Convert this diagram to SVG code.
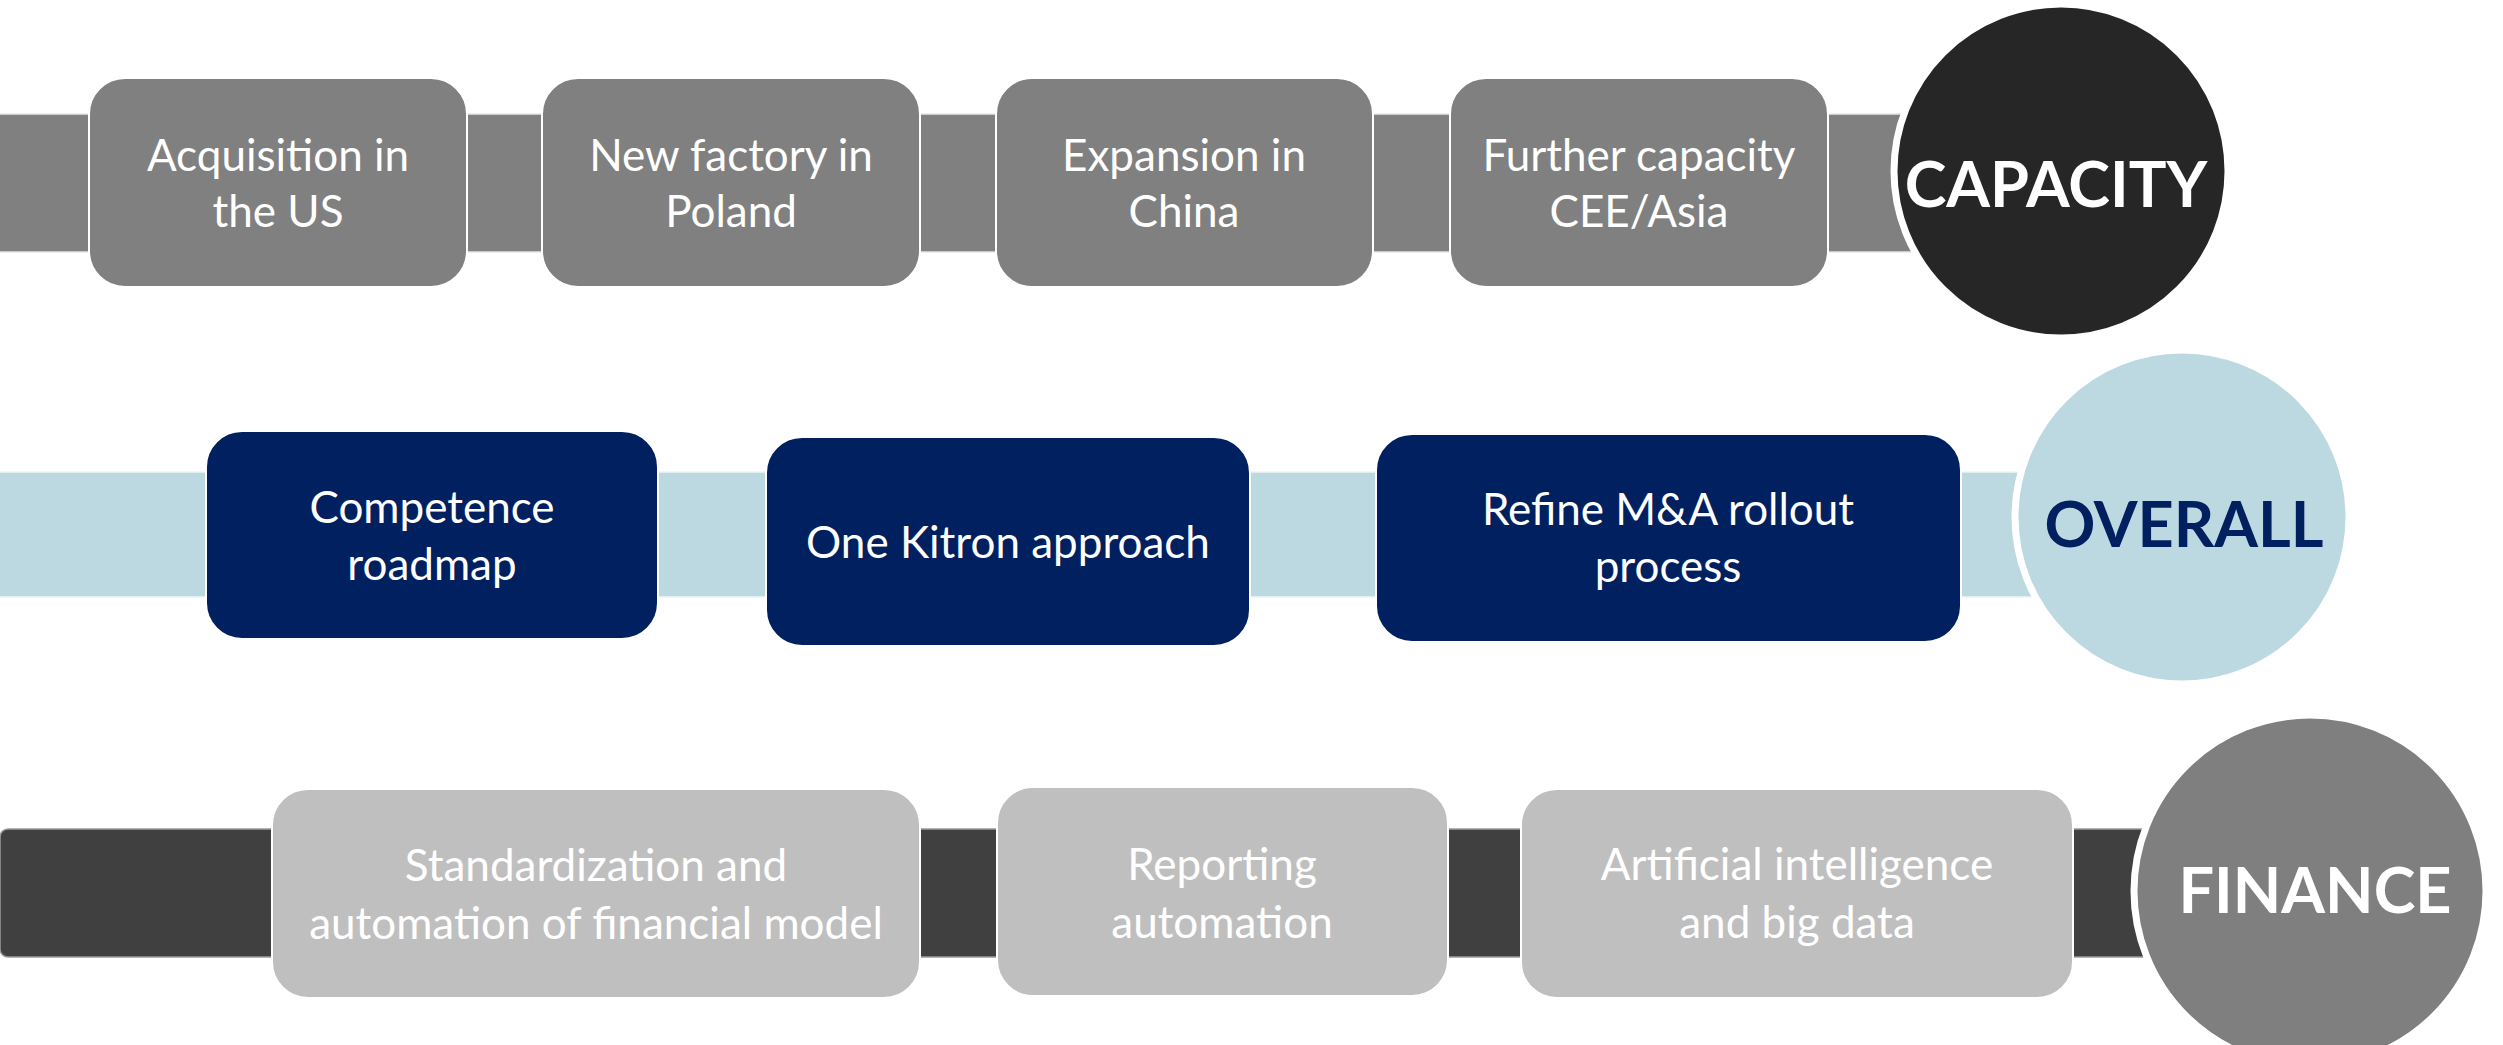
<svg xmlns="http://www.w3.org/2000/svg" width="2503" height="1045" viewBox="0 0 2503 1045">
<style>
.t{font-family:Lato,"Liberation Sans",sans-serif;font-size:44px;fill:#ffffff;text-anchor:middle}
.h{font-family:Lato,"Liberation Sans",sans-serif;font-size:63px;font-weight:700;text-anchor:middle}
.b1{fill:#808080;stroke:#e6e6e6;stroke-width:1.5}
.b2{fill:#bcd9e2;stroke:#eef5f8;stroke-width:1.5}
.b3{fill:#404040;stroke:#9a9a9a;stroke-width:1.5}
.n1{fill:#808080;stroke:#ffffff;stroke-width:2}
.n2{fill:#012060;stroke:#ffffff;stroke-width:2}
.n3{fill:#bfbfbf;stroke:#ffffff;stroke-width:2}
.c{stroke:#ffffff;stroke-width:7}
</style>
<rect width="2503" height="1045" fill="#ffffff"/>
<g id="connectors">
<rect class="b1" x="-2" y="114" width="2050" height="138"/>
<rect class="b2" x="-2" y="472" width="2150" height="125"/>
<rect class="b3" x="0" y="829" width="2250" height="128" rx="8"/>
</g>
<g id="capacity-row">
<g id="n-acq"><rect class="n1" x="89" y="78" width="378" height="209" rx="36"/><text class="t" x="278" y="171">Acquisition in</text><text class="t" x="278" y="227">the US</text></g>
<g id="n-poland"><rect class="n1" x="542" y="78" width="378" height="209" rx="36"/><text class="t" x="731" y="171">New factory in</text><text class="t" x="731" y="227">Poland</text></g>
<g id="n-china"><rect class="n1" x="996" y="78" width="377" height="209" rx="36"/><text class="t" x="1184" y="171">Expansion in</text><text class="t" x="1184" y="227">China</text></g>
<g id="n-further"><rect class="n1" x="1450" y="78" width="378" height="209" rx="36"/><text class="t" x="1639" y="171">Further capacity</text><text class="t" x="1639" y="227">CEE/Asia</text></g>
<g id="n-capacity"><circle class="c" cx="2061" cy="171" r="167" fill="#262626"/><text class="h" x="2056" y="207" fill="#ffffff">CAPACITY</text></g>
</g>
<g id="overall-row">
<g id="n-competence"><rect class="n2" x="206" y="431" width="452" height="208" rx="36"/><text class="t" x="432" y="523">Competence</text><text class="t" x="432" y="580">roadmap</text></g>
<g id="n-onekitron"><rect class="n2" x="766" y="437" width="484" height="209" rx="36"/><text class="t" x="1008" y="558">One Kitron approach</text></g>
<g id="n-refine"><rect class="n2" x="1376" y="434" width="585" height="208" rx="36"/><text class="t" x="1668" y="525">Refine M&amp;A rollout</text><text class="t" x="1668" y="582">process</text></g>
<g id="n-overall"><circle class="c" cx="2182" cy="517" r="167" fill="#bcd9e2"/><text class="h" x="2184" y="547" fill="#002060">OVERALL</text></g>
</g>
<g id="finance-row">
<g id="n-standard"><rect class="n3" x="272" y="789" width="648" height="209" rx="36"/><text class="t" x="596" y="881">Standardization and</text><text class="t" x="596" y="939">automation of financial model</text></g>
<g id="n-reporting"><rect class="n3" x="997" y="787" width="451" height="209" rx="36"/><text class="t" x="1222" y="880">Reporting</text><text class="t" x="1222" y="938">automation</text></g>
<g id="n-ai"><rect class="n3" x="1521" y="789" width="552" height="209" rx="36"/><text class="t" x="1797" y="880">Artificial intelligence</text><text class="t" x="1797" y="938">and big data</text></g>
<g id="n-finance"><circle class="c" cx="2310" cy="891" r="176" fill="#7f7f7f"/><text class="h" x="2315" y="913" fill="#ffffff">FINANCE</text></g>
</g>
</svg>
